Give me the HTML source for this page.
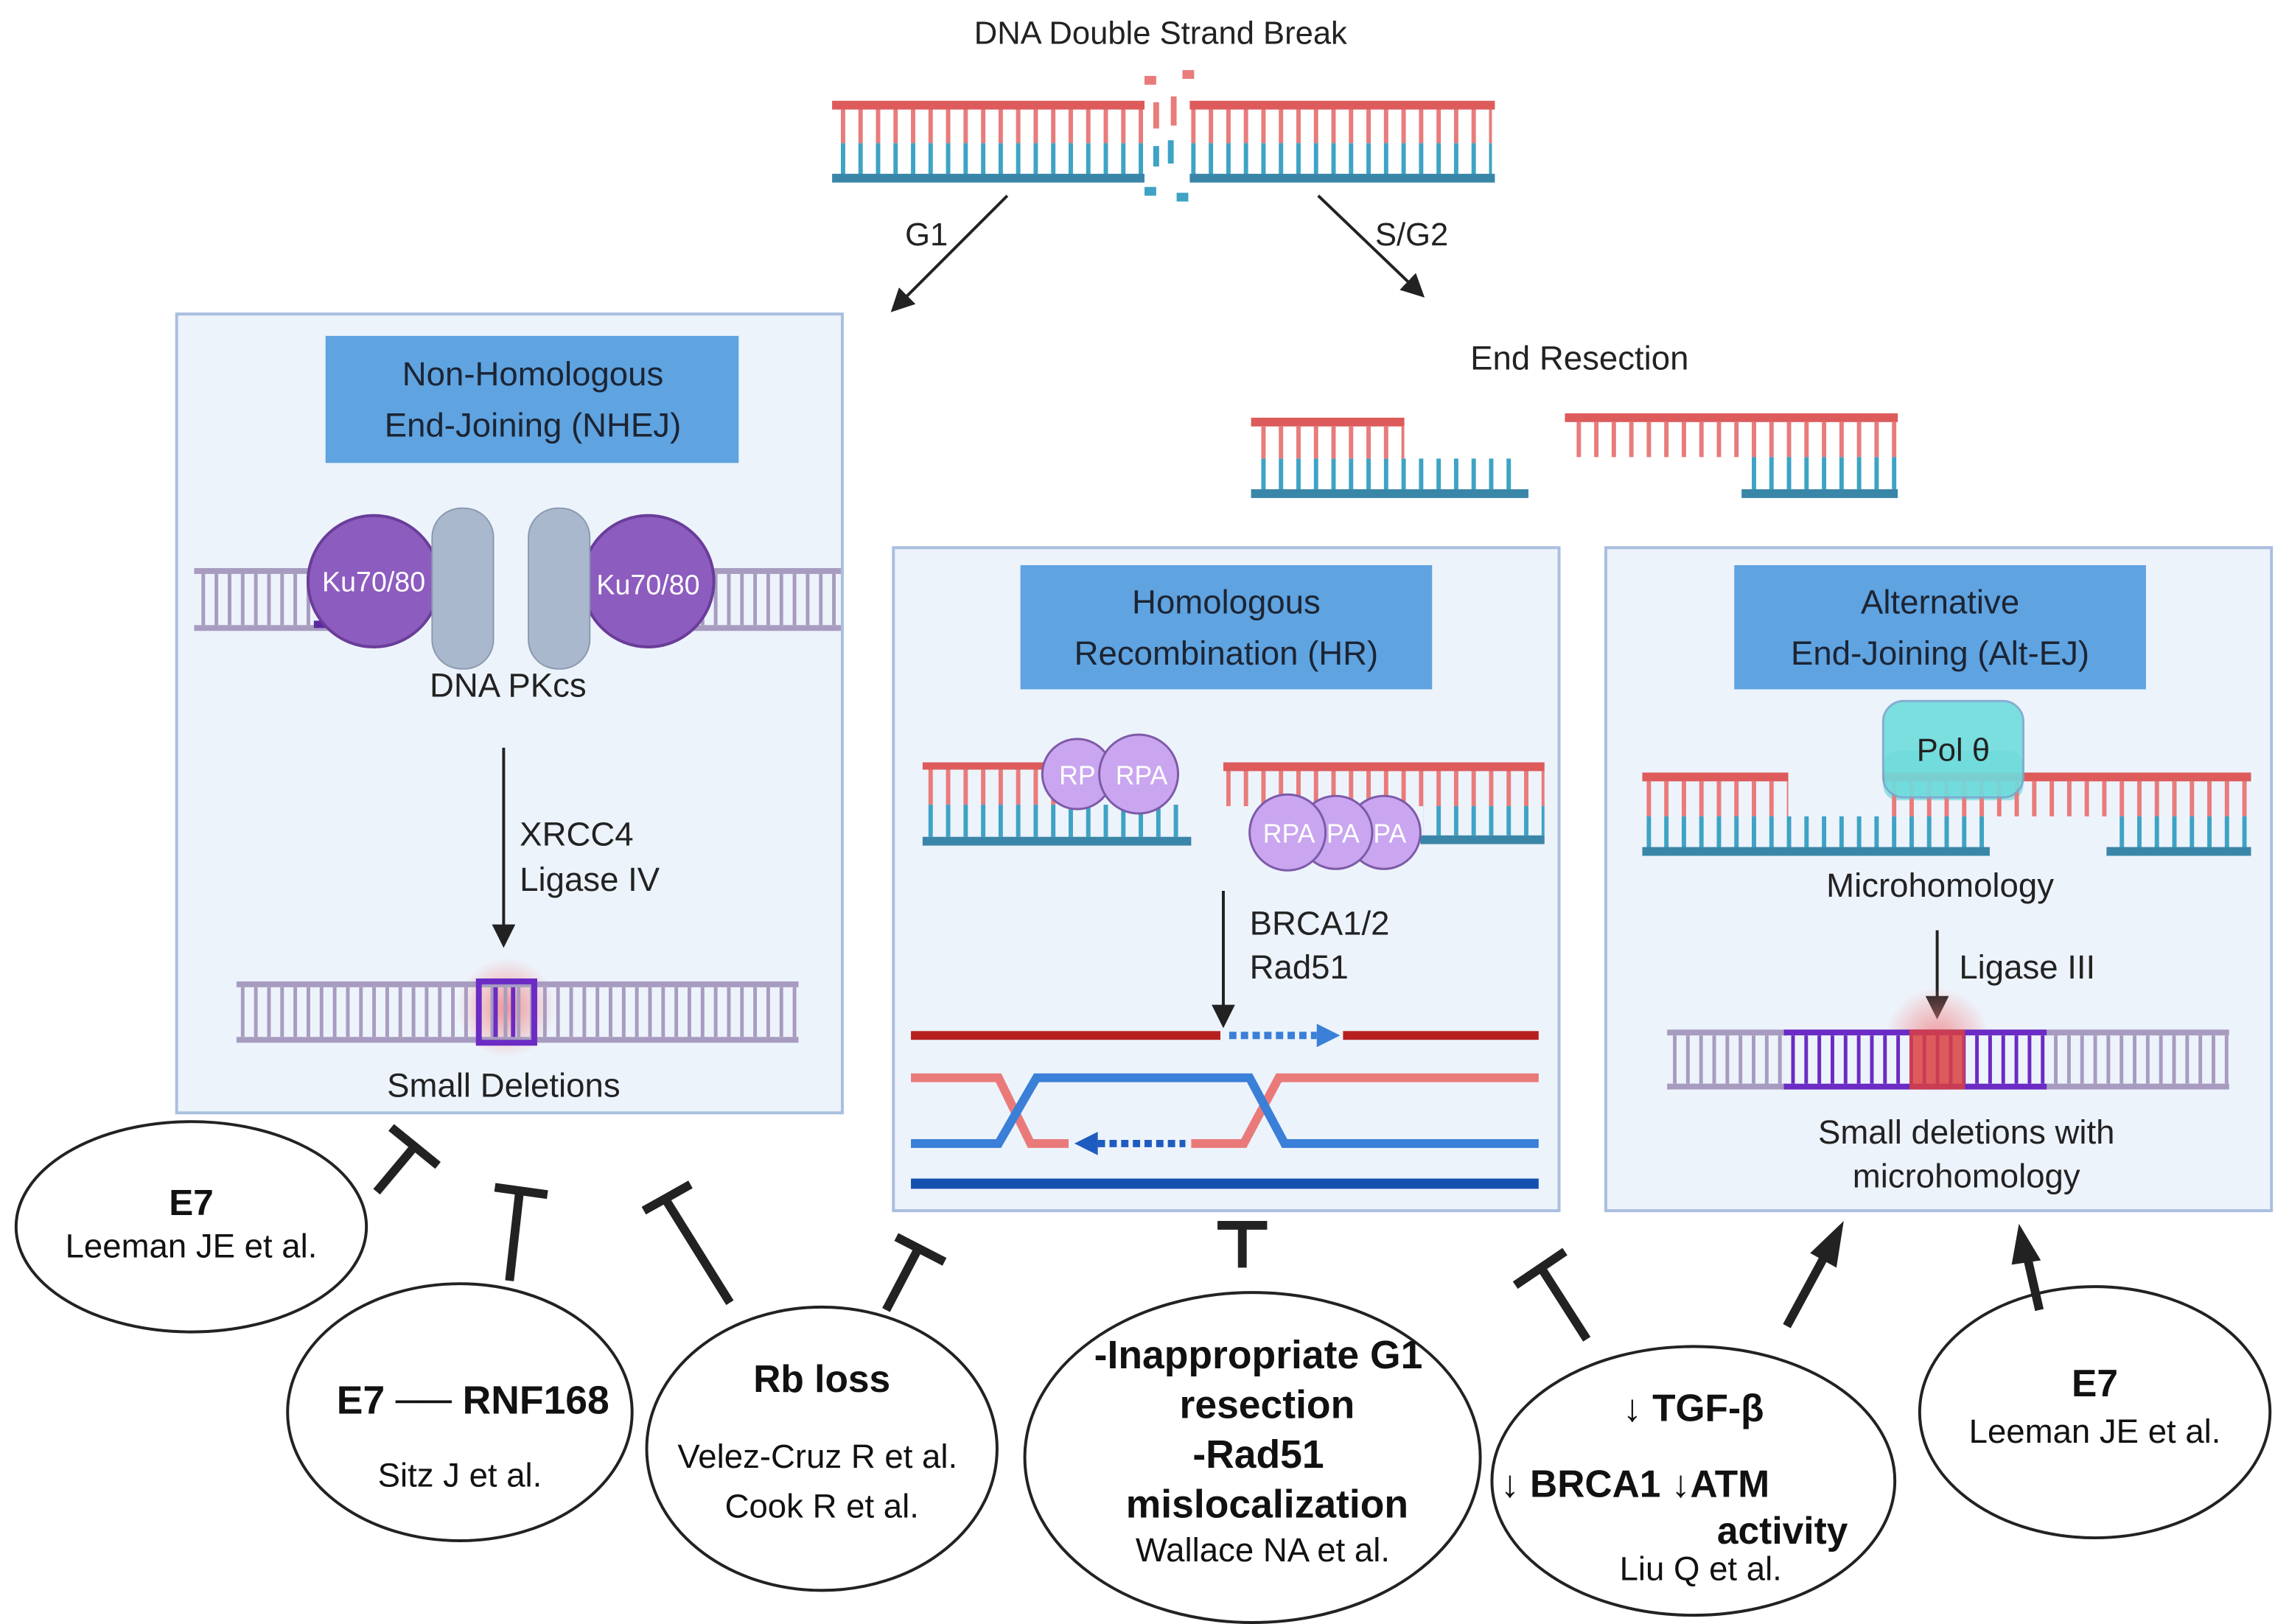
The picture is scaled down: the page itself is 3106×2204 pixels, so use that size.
<!DOCTYPE html>
<html><head><meta charset="utf-8"><style>
html,body{margin:0;padding:0;background:#fff}
svg{display:block}
text{font-family:"Liberation Sans",sans-serif}
</style></head><body>
<svg width="3106" height="2204" viewBox="0 0 1568 1112" preserveAspectRatio="none" xmlns="http://www.w3.org/2000/svg">
<defs>
<pattern id="rg" patternUnits="userSpaceOnUse" width="12" height="60" x="572"><rect x="4" y="0" width="3" height="60" fill="#e97b7b"/></pattern>
<pattern id="bl" patternUnits="userSpaceOnUse" width="12" height="60" x="572"><rect x="4" y="0" width="3" height="60" fill="#3ea3c4"/></pattern>
<pattern id="pu" patternUnits="userSpaceOnUse" width="9" height="60"><rect x="3" y="0" width="2.5" height="60" fill="#a79cc0"/></pattern>
<pattern id="pu2" patternUnits="userSpaceOnUse" width="9" height="60"><rect x="3" y="0" width="2.5" height="60" fill="#6b2bc4"/></pattern>
<radialGradient id="glow"><stop offset="0" stop-color="#f08080" stop-opacity="0.8"/><stop offset="1" stop-color="#f08080" stop-opacity="0"/></radialGradient>
<marker id="ah" markerWidth="8" markerHeight="8" refX="6" refY="4" orient="auto"><path d="M0,0 L8,4 L0,8 z" fill="#222"/></marker>
</defs>

<!-- top DNA -->
<text x="795" y="30" font-size="22" text-anchor="middle" fill="#222">DNA Double Strand Break</text>
<rect x="572" y="74" width="212" height="24" fill="url(#rg)"/><rect x="572" y="98" width="212" height="22" fill="url(#bl)"/>
<rect x="815" y="74" width="207" height="24" fill="url(#rg)"/><rect x="815" y="98" width="207" height="22" fill="url(#bl)"/>
<rect x="570" y="69" width="214" height="6" fill="#dd5b5b"/><rect x="815" y="69" width="209" height="6" fill="#dd5b5b"/>
<rect x="570" y="119" width="214" height="6" fill="#3a86a8"/><rect x="815" y="119" width="209" height="6" fill="#3a86a8"/>
<g fill="#e97b7b"><rect x="784" y="52" width="8" height="6"/><rect x="810" y="48" width="8" height="6"/><rect x="790" y="70" width="4" height="18"/><rect x="802" y="66" width="4" height="20"/></g>
<g fill="#3ea3c4"><rect x="790" y="100" width="4" height="14"/><rect x="800" y="96" width="4" height="16"/><rect x="784" y="128" width="8" height="6"/><rect x="806" y="132" width="8" height="6"/></g>

<line x1="690" y1="134" x2="613" y2="211" stroke="#222" stroke-width="2" marker-end="url(#ah)"/>
<text x="620" y="168" font-size="22" fill="#222">G1</text>
<line x1="903" y1="134" x2="973" y2="201" stroke="#222" stroke-width="2" marker-end="url(#ah)"/>
<text x="942" y="168" font-size="22" fill="#222">S/G2</text>

<text x="1082" y="253" font-size="23" text-anchor="middle" fill="#222">End Resection</text>
<!-- resected DNA left -->
<rect x="857" y="286" width="105" height="6" fill="#dd5b5b"/>
<rect x="859" y="292" width="103" height="22" fill="url(#rg)"/>
<rect x="859" y="314" width="180" height="22" fill="url(#bl)"/>
<rect x="857" y="335" width="190" height="6" fill="#3a86a8"/>
<rect x="1072" y="283" width="228" height="6" fill="#dd5b5b"/>
<rect x="1074" y="289" width="226" height="24" fill="url(#rg)"/>
<rect x="1195" y="313" width="105" height="22" fill="url(#bl)"/>
<rect x="1193" y="335" width="107" height="6" fill="#3a86a8"/>

<!-- Boxes -->
<rect x="121" y="215" width="456" height="547" fill="#edf3fb" stroke="#a9bfe0" stroke-width="2"/>
<rect x="612" y="375" width="456" height="454" fill="#edf3fb" stroke="#a9bfe0" stroke-width="2"/>
<rect x="1100" y="375" width="456" height="454" fill="#edf3fb" stroke="#a9bfe0" stroke-width="2"/>
<rect x="223" y="230" width="283" height="87" fill="#5fa3e0"/>
<rect x="699" y="387" width="282" height="85" fill="#5fa3e0"/>
<rect x="1188" y="387" width="282" height="85" fill="#5fa3e0"/>
<g font-size="23" text-anchor="middle" fill="#1c2433">
<text x="365" y="264">Non-Homologous</text><text x="365" y="299">End-Joining (NHEJ)</text>
<text x="840" y="420">Homologous</text><text x="840" y="455">Recombination (HR)</text>
<text x="1329" y="420">Alternative</text><text x="1329" y="455">End-Joining (Alt-EJ)</text>
</g>

<!-- NHEJ DNA with Ku -->
<rect x="133" y="389" width="110" height="4" fill="#a79cc0"/><rect x="133" y="428" width="110" height="4" fill="#a79cc0"/>
<rect x="135" y="393" width="108" height="35" fill="url(#pu)"/>
<rect x="470" y="389" width="106" height="4" fill="#a79cc0"/><rect x="470" y="428" width="106" height="4" fill="#a79cc0"/>
<rect x="472" y="393" width="104" height="35" fill="url(#pu)"/>
<rect x="215" y="425" width="30" height="5" fill="#5a2aa0"/>
<circle cx="256" cy="398" r="45" fill="#8d5cbf" stroke="#6a3d99" stroke-width="2"/>
<circle cx="444" cy="398" r="45" fill="#8d5cbf" stroke="#6a3d99" stroke-width="2"/>
<rect x="296" y="348" width="42" height="110" rx="20" fill="#a9b8cc" stroke="#8a9ab0"/>
<rect x="362" y="348" width="42" height="110" rx="20" fill="#a9b8cc" stroke="#8a9ab0"/>
<text x="256" y="405" font-size="19" fill="#fff" text-anchor="middle">Ku70/80</text>
<text x="444" y="407" font-size="19" fill="#fff" text-anchor="middle">Ku70/80</text>
<text x="348" y="477" font-size="23" fill="#222" text-anchor="middle">DNA PKcs</text>
<line x1="345" y1="512" x2="345" y2="645" stroke="#222" stroke-width="2" marker-end="url(#ah)"/>
<text x="356" y="579" font-size="23" fill="#222">XRCC4</text>
<text x="356" y="610" font-size="23" fill="#222">Ligase IV</text>
<circle cx="347" cy="690" r="34" fill="url(#glow)"/>
<rect x="162" y="672" width="385" height="4" fill="#a79cc0"/><rect x="162" y="710" width="385" height="4" fill="#a79cc0"/>
<rect x="164" y="676" width="383" height="34" fill="url(#pu)"/>
<rect x="328" y="672" width="38" height="42" fill="none" stroke="#6b2bc4" stroke-width="4"/>
<rect x="338" y="676" width="3" height="34" fill="#6b2bc4"/><rect x="350" y="676" width="3" height="34" fill="#6b2bc4"/>
<text x="345" y="751" font-size="23" fill="#222" text-anchor="middle">Small Deletions</text>

<!-- HR -->
<rect x="632" y="522" width="90" height="5" fill="#dd5b5b"/>
<rect x="634" y="527" width="90" height="24" fill="url(#rg)"/>
<rect x="634" y="551" width="180" height="22" fill="url(#bl)"/>
<rect x="632" y="573" width="184" height="6" fill="#3a86a8"/>
<rect x="838" y="522" width="220" height="6" fill="#dd5b5b"/>
<rect x="840" y="528" width="218" height="24" fill="url(#rg)"/>
<rect x="975" y="552" width="83" height="20" fill="url(#bl)"/>
<rect x="973" y="572" width="85" height="6" fill="#3a86a8"/>
<g fill="#c9a6ef" stroke="#7d5aa8" stroke-width="1.5">
<circle cx="738" cy="530" r="24"/><circle cx="780" cy="530" r="27"/>
<circle cx="948" cy="570" r="25"/><circle cx="915" cy="570" r="25"/><circle cx="882" cy="570" r="26"/>
</g>
<g font-size="18" fill="#fff" text-anchor="middle"><text x="738" y="537">RP</text><text x="782" y="537">RPA</text>
<text x="883" y="577">RPA</text><text x="920" y="577">PA</text><text x="952" y="577">PA</text></g>
<line x1="838" y1="610" x2="838" y2="700" stroke="#222" stroke-width="2" marker-end="url(#ah)"/>
<text x="856" y="640" font-size="23" fill="#222">BRCA1/2</text>
<text x="856" y="670" font-size="23" fill="#222">Rad51</text>
<rect x="624" y="706" width="212" height="6" fill="#b82020"/>
<rect x="920" y="706" width="134" height="6" fill="#b82020"/>
<line x1="842" y1="709" x2="902" y2="709" stroke="#3a7fd8" stroke-width="5" stroke-dasharray="5,3"/>
<path d="M902,701 L918,709 L902,717 z" fill="#3a7fd8"/>
<path d="M624,738 L684,738 L706,783 L732,783" stroke="#ea7a7a" stroke-width="6" fill="none"/>
<path d="M816,783 L852,783 L876,738 L1054,738" stroke="#ea7a7a" stroke-width="6" fill="none"/>
<path d="M624,783 L684,783 L710,738 L856,738 L880,783 L1054,783" stroke="#3a7fd8" stroke-width="6" fill="none"/>
<line x1="752" y1="783" x2="812" y2="783" stroke="#1f5cc0" stroke-width="5" stroke-dasharray="5,3"/>
<path d="M752,775 L736,783 L752,791 z" fill="#1f5cc0"/>
<rect x="624" y="807" width="430" height="7" fill="#1450b0"/>

<!-- Alt-EJ -->
<rect x="1125" y="529" width="100" height="6" fill="#dd5b5b"/>
<rect x="1127" y="535" width="98" height="24" fill="url(#rg)"/>
<rect x="1127" y="559" width="233" height="22" fill="url(#bl)"/>
<rect x="1125" y="580" width="238" height="6" fill="#3a86a8"/>
<rect x="1290" y="514" width="96" height="34" rx="10" fill="#5ad6d6" opacity="0.6"/>
<rect x="1290" y="529" width="252" height="6" fill="#dd5b5b"/>
<rect x="1292" y="535" width="250" height="24" fill="url(#rg)"/>
<rect x="1445" y="559" width="97" height="22" fill="url(#bl)"/>
<rect x="1443" y="580" width="99" height="6" fill="#3a86a8"/>
<rect x="1290" y="480" width="96" height="66" rx="14" fill="#6fdcdc" stroke="#7aa7d0" stroke-width="1.5" opacity="0.9"/>
<text x="1338" y="521" font-size="22" text-anchor="middle" fill="#222">Pol θ</text>
<text x="1329" y="614" font-size="23" text-anchor="middle" fill="#222">Microhomology</text>
<line x1="1327" y1="637" x2="1327" y2="694" stroke="#222" stroke-width="2" marker-end="url(#ah)"/>
<text x="1342" y="670" font-size="23" fill="#222">Ligase III</text>
<circle cx="1327" cy="712" r="36" fill="url(#glow)"/>
<rect x="1142" y="705" width="385" height="4" fill="#a79cc0"/><rect x="1142" y="742" width="385" height="4" fill="#a79cc0"/>
<rect x="1144" y="709" width="383" height="33" fill="url(#pu)"/>
<rect x="1222" y="705" width="180" height="4" fill="#6b2bc4"/><rect x="1222" y="742" width="180" height="4" fill="#6b2bc4"/>
<rect x="1224" y="709" width="178" height="33" fill="#edf3fb"/>
<rect x="1224" y="709" width="178" height="33" fill="url(#pu2)"/>
<rect x="1308" y="705" width="38" height="41" fill="#d94040" opacity="0.85"/>
<text x="1347" y="783" font-size="23" text-anchor="middle" fill="#222">Small deletions with</text>
<text x="1347" y="813" font-size="23" text-anchor="middle" fill="#222">microhomology</text>

<!-- ellipses -->
<g fill="#fff" stroke="#222" stroke-width="2">
<ellipse cx="131" cy="840" rx="120" ry="72"/>
<ellipse cx="315" cy="967" rx="118" ry="88"/>
<ellipse cx="563" cy="992" rx="120" ry="97"/>
<ellipse cx="858" cy="998" rx="156" ry="113"/>
<ellipse cx="1160" cy="1014" rx="138" ry="92"/>
<ellipse cx="1435" cy="967" rx="120" ry="86"/>
</g>
<g font-size="23" text-anchor="middle" fill="#111">
<text x="131" y="832" font-weight="bold" font-size="25">E7</text>
<text x="131" y="861">Leeman JE et al.</text>
<text x="324" y="968" font-weight="bold" font-size="27">E7 ── RNF168</text>
<text x="315" y="1018">Sitz J et al.</text>
<text x="563" y="953" font-weight="bold" font-size="26">Rb loss</text>
<text x="560" y="1005">Velez-Cruz R et al.</text>
<text x="563" y="1039">Cook R et al.</text>
<g font-weight="bold" font-size="27"><text x="862" y="937">-Inappropriate G1</text><text x="868" y="971">resection</text><text x="862" y="1005">-Rad51</text><text x="868" y="1039">mislocalization</text></g>
<text x="865" y="1069">Wallace NA et al.</text>
<text x="1160" y="973" font-weight="bold" font-size="26">↓ TGF-β</text>
<text x="1120" y="1025" font-weight="bold" font-size="26">↓ BRCA1 ↓ATM</text>
<text x="1221" y="1057" font-weight="bold" font-size="26">activity</text>
<text x="1165" y="1082">Liu Q et al.</text>
<text x="1435" y="956" font-weight="bold" font-size="26">E7</text>
<text x="1435" y="988">Leeman JE et al.</text>
</g>

<!-- inhibition / arrows -->
<g stroke="#222" stroke-width="6" stroke-linecap="butt">
<line x1="258" y1="816" x2="284" y2="785"/><line x1="268" y1="772" x2="300" y2="798"/>
<line x1="349" y1="877" x2="356" y2="815"/><line x1="339" y1="813" x2="375" y2="818"/>
<line x1="500" y1="892" x2="457" y2="823"/><line x1="441" y1="829" x2="473" y2="811"/>
<line x1="607" y1="897" x2="629" y2="855"/><line x1="614" y1="847" x2="647" y2="864"/>
<line x1="851" y1="868" x2="851" y2="839"/><line x1="834" y1="839" x2="868" y2="839"/>
<line x1="1087" y1="917" x2="1055" y2="867"/><line x1="1038" y1="880" x2="1072" y2="857"/>
<line x1="1224" y1="908" x2="1250" y2="860"/>
<line x1="1397" y1="897" x2="1389" y2="862"/>
</g>
<path d="M1263,836 L1258,868 L1240,858 z" fill="#222"/>
<path d="M1383,838 L1398,863 L1378,866 z" fill="#222"/>
</svg>
</body></html>
